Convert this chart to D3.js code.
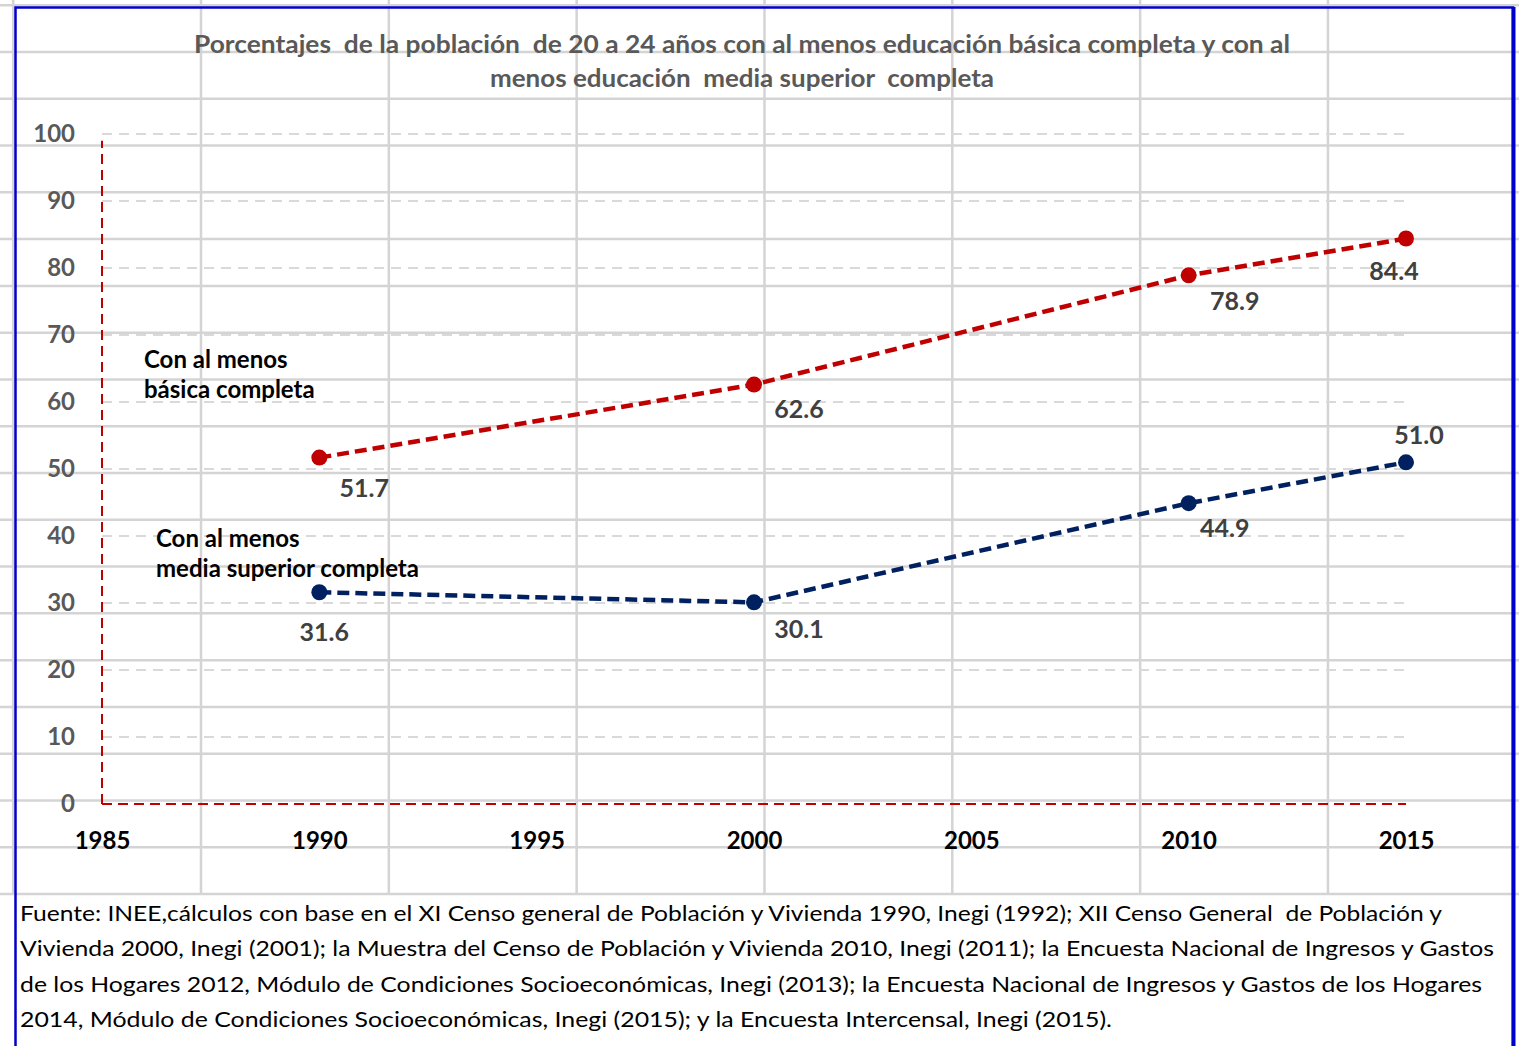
<!DOCTYPE html>
<html>
<head>
<meta charset="utf-8">
<script src="https://cdn.jsdelivr.net/npm/d3@7"></script>
<style>
  body { margin: 0; background: #fff; }
  svg text { font-family: Lato, 'Open Sans', sans-serif; white-space: pre; }
</style>
</head>
<body>
<div id="chart"></div>
<script>
'use strict'
// data
let years = [1990, 2000, 2010, 2015];
let basica = [51.7, 62.6, 78.9, 84.4];
let mediaSuperior = [31.6, 30.1, 44.9, 51.0];
let yTicks = [0, 10, 20, 30, 40, 50, 60, 70, 80, 90, 100];
let xTicks = [1985, 1990, 1995, 2000, 2005, 2010, 2015];
let titleLines = [
  'Porcentajes  de la población  de 20 a 24 años con al menos educación básica completa y con al',
  'menos educación  media superior  completa'
];
let basicaLabel = ['Con al menos', 'básica completa'];
let mediaLabel = ['Con al menos', 'media superior completa'];
let fuenteLines = [
  'Fuente: INEE,cálculos con base en el XI Censo general de Población y Vivienda 1990, Inegi (1992); XII Censo General  de Población y',
  'Vivienda 2000, Inegi (2001); la Muestra del Censo de Población y Vivienda 2010, Inegi (2011); la Encuesta Nacional de Ingresos y Gastos',
  'de los Hogares 2012, Módulo de Condiciones Socioeconómicas, Inegi (2013); la Encuesta Nacional de Ingresos y Gastos de los Hogares',
  '2014, Módulo de Condiciones Socioeconómicas, Inegi (2015); y la Encuesta Intercensal, Inegi (2015).'
];

// layout
let W = 1519, H = 1046;
let x = d3.scaleLinear().domain([1985, 2015]).range([102, 1406]);
let y = d3.scaleLinear().domain([0, 100]).range([804, 134]);
// label offsets [dx, dy] from each point
let basicaOff = [[45, 39], [45, 33], [46, 35], [-12, 41]];
let mediaOff = [[5, 49], [45, 36], [36, 34], [13, -18]];
let fuenteWidths = [1422, 1474, 1462, 1092];
let titleWidths = [1096, 504];

let svg = d3.select('#chart')
  .append('svg')
  .attr('width', W)
  .attr('height', H);

svg.append('rect').attr('width', W).attr('height', H).attr('fill', '#fff');

// spreadsheet cell grid behind the chart
let colW = 187.83, rowH = 46.78;
let cols = d3.range(-1, 7).map(function(i) { return 201 + i * colW; });
let rows = d3.range(-1, 19).map(function(i) { return 52 + i * rowH; });
svg.selectAll('.cell-v')
  .data(cols)
  .enter().append('line')
  .attr('class', 'cell-v')
  .attr('x1', function(d) { return d; })
  .attr('x2', function(d) { return d; })
  .attr('y1', 0)
  .attr('y2', 894)
  .attr('stroke', '#d4d4d4')
  .attr('stroke-width', 2.5);
svg.selectAll('.cell-h')
  .data(rows)
  .enter().append('line')
  .attr('class', 'cell-h')
  .attr('x1', 0)
  .attr('x2', W)
  .attr('y1', function(d) { return d; })
  .attr('y2', function(d) { return d; })
  .attr('stroke', '#d4d4d4')
  .attr('stroke-width', 2.5);

// white box for the source note
svg.append('rect')
  .attr('x', 16).attr('y', 896)
  .attr('width', 1496).attr('height', H - 896)
  .attr('fill', '#fff');

// blue frame
svg.append('path')
  .attr('d', 'M15.5,' + H + 'V7.5H1513V' + H)
  .attr('fill', 'none')
  .attr('stroke', '#0000cc')
  .attr('stroke-width', 2.5);
svg.append('line')
  .attr('x1', 1513.5).attr('x2', 1513.5)
  .attr('y1', 7).attr('y2', H)
  .attr('stroke', '#0000cc')
  .attr('stroke-width', 4);

// title
svg.append('g').selectAll('text')
  .data(titleLines)
  .enter().append('text')
  .attr('x', 742)
  .attr('y', function(d, i) { return 53 + i * 34; })
  .attr('text-anchor', 'middle')
  .attr('fill', '#595959')
  .attr('font-size', '25px')
  .attr('font-weight', 'bold')
  .attr('textLength', function(d, i) { return titleWidths[i]; })
  .attr('lengthAdjust', 'spacingAndGlyphs')
  .text(function(d) { return d; });

// horizontal dashed gridlines
svg.selectAll('.grid')
  .data(yTicks.filter(function(d) { return d > 0; }))
  .enter().append('line')
  .attr('class', 'grid')
  .attr('x1', x(1985))
  .attr('x2', x(2015))
  .attr('y1', function(d) { return y(d); })
  .attr('y2', function(d) { return y(d); })
  .attr('stroke', '#d9d9d9')
  .attr('stroke-width', 2)
  .attr('stroke-dasharray', '10,7');

// axes (red dashed lines)
let yAxis = d3.axisLeft(y).tickValues(yTicks).tickSize(0).tickPadding(27);
let yAxisG = svg.append('g')
  .attr('transform', 'translate(' + x(1985) + ',0)')
  .call(yAxis);
yAxisG.select('.domain').remove();
yAxisG.selectAll('text')
  .attr('fill', '#595959')
  .attr('font-size', '24px')
  .attr('font-weight', 'bold')
  .attr('font-family', 'Lato, sans-serif');

let xAxis = d3.axisBottom(x).tickValues(xTicks).tickFormat(d3.format('d')).tickSize(0).tickPadding(28);
let xAxisG = svg.append('g')
  .attr('transform', 'translate(0,' + y(0) + ')')
  .call(xAxis);
xAxisG.select('.domain').remove();
xAxisG.selectAll('text')
  .attr('fill', '#000')
  .attr('font-size', '24px')
  .attr('font-weight', 'bold')
  .attr('font-family', 'Lato, sans-serif');

svg.append('line')
  .attr('x1', x(1985)).attr('x2', x(1985))
  .attr('y1', y(0)).attr('y2', y(99))
  .attr('stroke', '#c00000')
  .attr('stroke-width', 2)
  .attr('stroke-dasharray', '10,6');
svg.append('line')
  .attr('x1', x(1985)).attr('x2', x(2015))
  .attr('y1', y(0)).attr('y2', y(0))
  .attr('stroke', '#c00000')
  .attr('stroke-width', 2)
  .attr('stroke-dasharray', '10,6');

// series
let line = d3.line()
  .x(function(d) { return x(d[0]); })
  .y(function(d) { return y(d[1]); });

function drawSeries(values, color, offsets) {
  let pts = years.map(function(yr, i) { return [yr, values[i]]; });
  svg.append('path')
    .datum(pts)
    .attr('d', line)
    .attr('fill', 'none')
    .attr('stroke', color)
    .attr('stroke-width', 4.5)
    .attr('stroke-dasharray', '12,6');
  svg.selectAll(null)
    .data(pts)
    .enter().append('circle')
    .attr('cx', function(d) { return x(d[0]); })
    .attr('cy', function(d) { return y(d[1]); })
    .attr('r', 8)
    .attr('fill', color);
  svg.selectAll(null)
    .data(pts)
    .enter().append('text')
    .attr('x', function(d, i) { return x(d[0]) + offsets[i][0]; })
    .attr('y', function(d, i) { return y(d[1]) + offsets[i][1]; })
    .attr('text-anchor', 'middle')
    .attr('fill', '#404040')
    .attr('font-size', '25px')
    .attr('font-weight', 'bold')
    .text(function(d) { return d[1].toFixed(1); });
}
drawSeries(basica, '#c00000', basicaOff);
drawSeries(mediaSuperior, '#002060', mediaOff);

// series names
function drawName(lines, px, py) {
  svg.append('g').selectAll('text')
    .data(lines)
    .enter().append('text')
    .attr('x', px)
    .attr('y', function(d, i) { return py + i * 30; })
    .attr('fill', '#000')
    .attr('font-size', '24px')
    .attr('font-weight', 'bold')
    .text(function(d) { return d; });
}
drawName(basicaLabel, 144, 368);
drawName(mediaLabel, 156, 547);

// source note
svg.append('g').selectAll('text')
  .data(fuenteLines)
  .enter().append('text')
  .attr('x', 20)
  .attr('y', function(d, i) { return 921 + i * 35.3; })
  .attr('fill', '#000')
  .attr('font-size', '22px')
  .attr('textLength', function(d, i) { return fuenteWidths[i]; })
  .attr('lengthAdjust', 'spacingAndGlyphs')
  .text(function(d) { return d; });
</script>
</body>
</html>
